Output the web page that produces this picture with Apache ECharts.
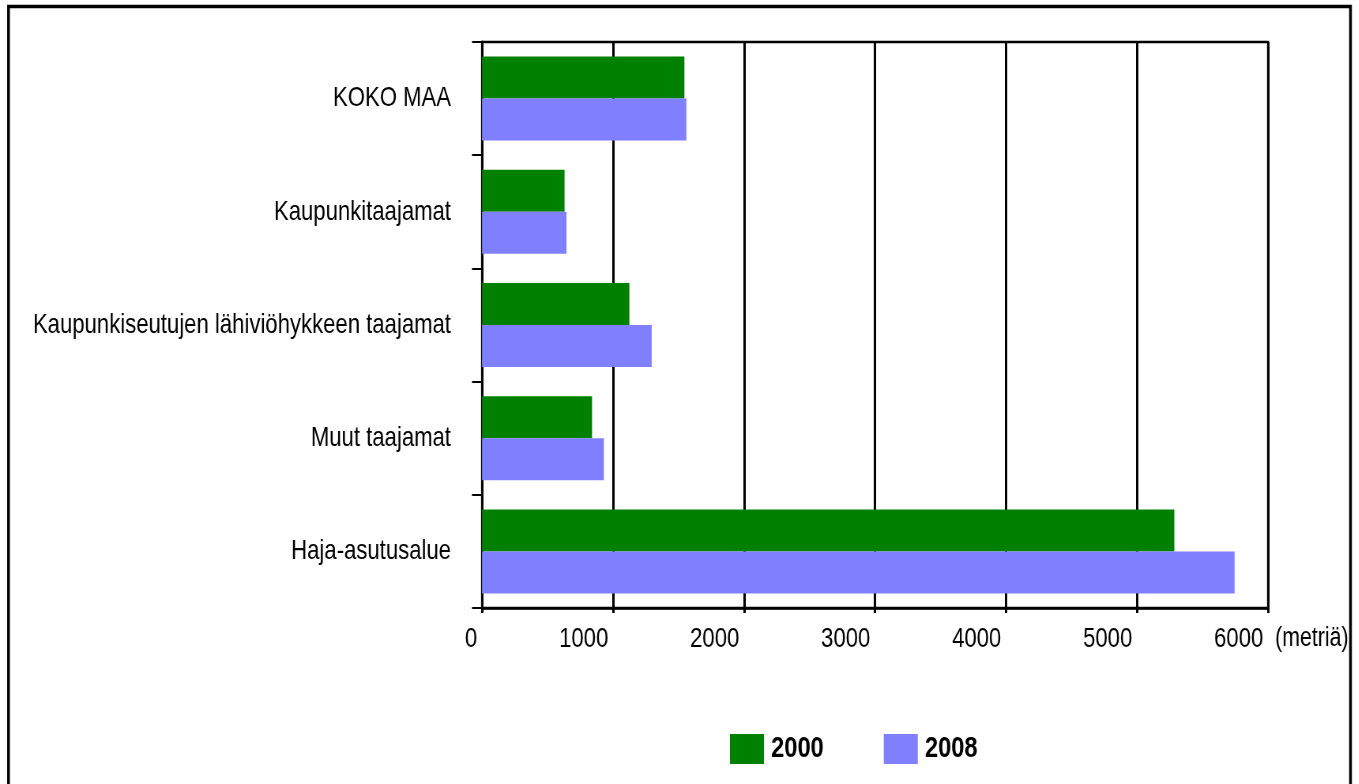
<!DOCTYPE html>
<html>
<head>
<meta charset="utf-8">
<script src="https://cdn.jsdelivr.net/npm/echarts@6/dist/echarts.min.js"></script>
<style>
  html, body { margin: 0; padding: 0; background: #fff; overflow: hidden; }
  #wrap { width: 1359px; height: 784px; overflow: hidden; }
  /* the chart is drawn wider and squeezed horizontally so the type reads as a narrow face */
  #chart { height: 784px; transform-origin: 0 0; }
</style>
</head>
<body>
<div id="wrap"><div id="chart"></div></div>
<script>
// Areas, listed from top to bottom
const categories = [
  'KOKO MAA',
  'Kaupunkitaajamat',
  'Kaupunkiseutujen lähiviöhykkeen taajamat',
  'Muut taajamat',
  'Haja-asutusalue'
];
const years = ['2000', '2008'];
// Distance in metres
const values2000 = [1545, 630, 1125, 840, 5285];
const values2008 = [1560, 645, 1295, 930, 5745];
const xTicks = { min: 0, max: 6000, interval: 1000 };
const unitLabel = '(metriä)';

const FONT = '"Liberation Sans", Arial, sans-serif';
const SX = 0.79;                 // horizontal squeeze
const W = 1359, H = 784;
const sx = v => v / SX;          // page px -> chart px (horizontal)

const el = document.getElementById('chart');
el.style.width = sx(W) + 'px';
el.style.transform = 'scaleX(' + SX + ')';

const chart = echarts.init(el, null, { renderer: 'canvas', width: sx(W), height: H });

chart.setOption({
  animation: false,
  backgroundColor: '#fff',
  grid: {
    left: sx(482), right: sx(91), top: 42, bottom: 176,
    outerBoundsMode: 'none', containLabel: false,
    show: true, borderColor: '#000', borderWidth: 2.5
  },
  legend: {
    left: sx(726), top: 729,
    itemWidth: sx(34), itemHeight: 30, itemGap: sx(60),
    icon: 'rect',
    data: years,
    textStyle: { fontFamily: FONT, fontWeight: 'bold', fontSize: 30, color: '#000', padding: [0, 0, 0, 4] }
  },
  xAxis: {
    type: 'value',
    min: xTicks.min, max: xTicks.max, interval: xTicks.interval,
    name: unitLabel,
    nameLocation: 'end',
    nameGap: 9,
    nameTextStyle: { fontFamily: FONT, fontSize: 27, color: '#000', align: 'left', verticalAlign: 'top', padding: [17, 0, 0, 0] },
    axisLine: { show: true, lineStyle: { color: '#000', width: 2.5 } },
    axisTick: { show: true, length: 5, lineStyle: { color: '#000', width: 3 } },
    splitLine: { show: true, lineStyle: { color: '#000', width: 3 } },
    axisLabel: {
      fontFamily: FONT, fontSize: 28, color: '#000',
      align: 'right', padding: [0, 6, 0, 0], margin: 17,
      formatter: v => String(v)
    }
  },
  yAxis: {
    type: 'category',
    data: categories,
    inverse: true,
    axisLine: { show: true, lineStyle: { color: '#000', width: 3 } },
    axisTick: { show: true, length: sx(10), lineStyle: { color: '#000', width: 2 } },
    axisLabel: { fontFamily: FONT, fontSize: 28, color: '#000', margin: sx(31) }
  },
  series: [
    {
      name: years[0], type: 'bar', data: values2000,
      barWidth: 42, barGap: '0%',
      itemStyle: { color: '#008000' }
    },
    {
      name: years[1], type: 'bar', data: values2008,
      barWidth: 42, barGap: '0%',
      itemStyle: { color: '#8080ff' }
    }
  ],
  graphic: [
    {
      type: 'rect',
      shape: { x: sx(8.5), y: 6.5, width: sx(1342), height: 800 },
      style: { fill: 'none', stroke: '#000', lineWidth: 3.5 },
      silent: true
    }
  ]
});
</script>
</body>
</html>
